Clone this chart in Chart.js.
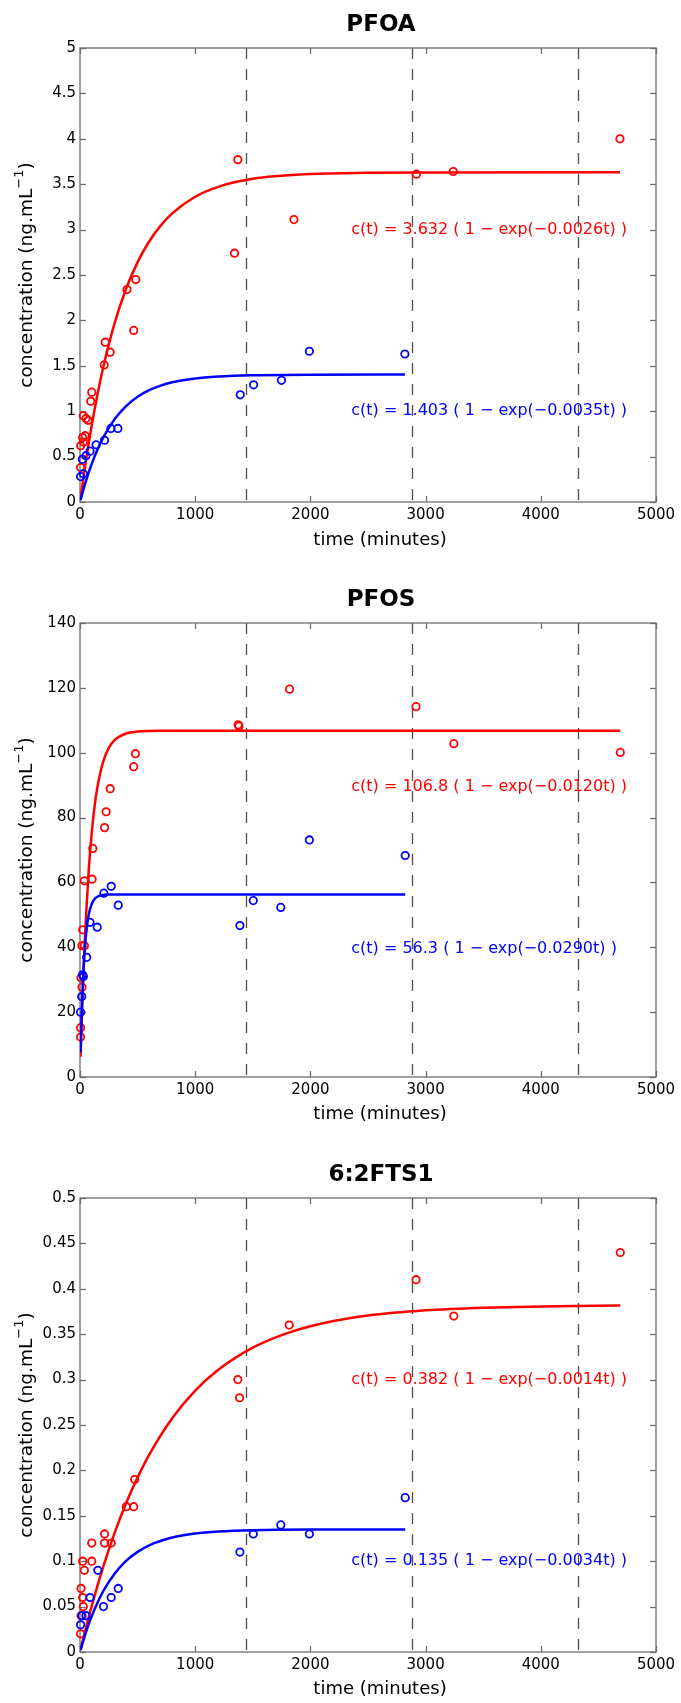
<!DOCTYPE html>
<html>
<head>
<meta charset="utf-8">
<script src="https://cdn.jsdelivr.net/npm/chart.js@4.4.1/dist/chart.umd.min.js"></script>
<style>
html,body{margin:0;padding:0;background:#fff;overflow:hidden;}
#wrap{position:relative;width:681px;height:1703px;overflow:hidden;background:#fff;}
.panel{position:absolute;left:0;width:681px;height:575px;}
canvas{display:block;}
</style>
</head>
<body>
<div id="wrap">
  <div class="panel" style="top:0px"><canvas id="c1" width="681" height="575"></canvas></div>
  <div class="panel" style="top:575px"><canvas id="c2" width="681" height="575"></canvas></div>
  <div class="panel" style="top:1150px"><canvas id="c3" width="681" height="575"></canvas></div>
</div>
<script>
// ---------- shared axis values ----------
const xTicks = [0, 1000, 2000, 3000, 4000, 5000];
const xTickLabels = ['0', '1000', '2000', '3000', '4000', '5000'];
const dayLines = [1440, 2880, 4320];

// ---------- PFOA ----------
const pfoaYTicks = [0, 0.5, 1, 1.5, 2, 2.5, 3, 3.5, 4, 4.5, 5];
const pfoaYTickLabels = ['0', '0.5', '1', '1.5', '2', '2.5', '3', '3.5', '4', '4.5', '5'];
const pfoaRedT = [5, 6, 23, 30, 44, 29, 52, 70, 93, 102, 210, 219, 262, 408, 466, 484, 1341, 1370, 1857, 2920, 3240, 4687];
const pfoaRedC = [0.38, 0.62, 0.71, 0.66, 0.73, 0.95, 0.92, 0.90, 1.11, 1.21, 1.51, 1.76, 1.65, 2.34, 1.89, 2.45, 2.74, 3.77, 3.11, 3.61, 3.64, 4.00];
const pfoaBlueT = [5, 29, 20, 52, 87, 140, 213, 268, 329, 1391, 1507, 1749, 1991, 2820];
const pfoaBlueC = [0.28, 0.31, 0.47, 0.51, 0.56, 0.63, 0.68, 0.81, 0.81, 1.18, 1.29, 1.34, 1.66, 1.63];
const pfoaRedFitT = [5, 50, 100, 150, 200, 300, 400, 500, 600, 700, 800, 1000, 1200, 1500, 2000, 2500, 3000, 4687];
const pfoaRedFitC = [0.047, 0.443, 0.831, 1.173, 1.473, 1.967, 2.348, 2.642, 2.869, 3.044, 3.178, 3.362, 3.471, 3.559, 3.612, 3.626, 3.630, 3.632];
const pfoaBlueFitT = [5, 50, 100, 150, 200, 300, 400, 500, 600, 700, 800, 1000, 1200, 1500, 2000, 2820];
const pfoaBlueFitC = [0.024, 0.225, 0.414, 0.573, 0.706, 0.912, 1.057, 1.159, 1.231, 1.282, 1.318, 1.361, 1.382, 1.396, 1.402, 1.403];

// ---------- PFOS ----------
const pfosYTicks = [0, 20, 40, 60, 80, 100, 120, 140];
const pfosYTickLabels = ['0', '20', '40', '60', '80', '100', '120', '140'];
const pfosRedT = [5, 5, 17, 9, 17, 38, 23, 38, 105, 111, 213, 227, 262, 466, 481, 1373, 1380, 1819, 2917, 3245, 4690];
const pfosRedC = [12.3, 15.2, 27.7, 30.6, 40.5, 40.5, 45.4, 60.5, 61.0, 70.5, 76.9, 81.8, 88.9, 95.7, 99.7, 108.6, 108.2, 119.6, 114.2, 102.8, 100.1];
const pfosBlueT = [5, 15, 29, 22, 58, 87, 149, 207, 271, 332, 1388, 1504, 1743, 1991, 2823];
const pfosBlueC = [20.0, 24.8, 31.0, 31.5, 36.9, 47.7, 46.2, 56.7, 58.8, 53.0, 46.7, 54.4, 52.3, 73.1, 68.3];
const pfosRedFitT = [5, 10, 15, 20, 30, 40, 50, 75, 100, 125, 150, 200, 250, 300, 400, 500, 700, 1000, 4690];
const pfosRedFitC = [6.22, 12.08, 17.59, 22.79, 32.29, 40.71, 48.19, 63.38, 74.63, 82.97, 89.15, 97.11, 101.48, 103.88, 105.92, 106.53, 106.78, 106.80, 106.80];
const pfosBlueFitT = [5, 10, 15, 20, 30, 40, 50, 75, 100, 125, 150, 200, 250, 300, 2823];
const pfosBlueFitC = [7.60, 14.17, 19.86, 24.78, 32.71, 38.65, 43.09, 49.91, 53.20, 54.80, 55.57, 56.13, 56.26, 56.29, 56.30];

// ---------- 6:2FTS1 ----------
const ftsYTicks = [0, 0.05, 0.1, 0.15, 0.2, 0.25, 0.3, 0.35, 0.4, 0.45, 0.5];
const ftsYTickLabels = ['0', '0.05', '0.1', '0.15', '0.2', '0.25', '0.3', '0.35', '0.4', '0.45', '0.5'];
const ftsRedT = [5, 9, 29, 23, 9, 38, 23, 102, 102, 213, 213, 271, 402, 466, 475, 1370, 1385, 1816, 2917, 3245, 4690];
const ftsRedC = [0.02, 0.04, 0.05, 0.06, 0.07, 0.09, 0.10, 0.10, 0.12, 0.13, 0.12, 0.12, 0.16, 0.16, 0.19, 0.30, 0.28, 0.36, 0.41, 0.37, 0.44];
const ftsBlueT = [5, 17, 52, 87, 155, 204, 271, 332, 1388, 1504, 1743, 1991, 2823];
const ftsBlueC = [0.03, 0.04, 0.04, 0.06, 0.09, 0.05, 0.06, 0.07, 0.11, 0.13, 0.14, 0.13, 0.17];
const ftsRedFitT = [5, 50, 100, 200, 300, 400, 500, 600, 800, 1000, 1200, 1500, 1800, 2100, 2500, 3000, 3500, 4000, 4690];
const ftsRedFitC = [0.0027, 0.0258, 0.0499, 0.0933, 0.1310, 0.1638, 0.1923, 0.2171, 0.2574, 0.2878, 0.3108, 0.3352, 0.3512, 0.3618, 0.3705, 0.3763, 0.3792, 0.3806, 0.3815];
const ftsBlueFitT = [5, 50, 100, 200, 300, 400, 500, 600, 800, 1000, 1200, 1500, 2000, 2823];
const ftsBlueFitC = [0.0023, 0.0211, 0.0389, 0.0666, 0.0863, 0.1004, 0.1103, 0.1175, 0.1261, 0.1305, 0.1327, 0.1342, 0.1349, 0.1350];

// ---------- styling ----------
const RED = '#ff0000';
const BLUE = '#0000ff';
const FONT = '"DejaVu Sans", "Liberation Sans", Arial, sans-serif';
const PLOT_TOP = 48, PLOT_BOTTOM = 502, PLOT_LEFT = 80, PLOT_RIGHT = 656, CANVAS_H = 575;

const pts = (t, c) => t.map((v, i) => ({x: v, y: c[i]}));

const matlabAxes = {
  id: 'matlabAxes',
  beforeDatasetsDraw(chart, args, o) {
    const {ctx, chartArea: a, scales: {x, y}} = chart;
    ctx.save();
    // dashed day lines
    ctx.strokeStyle = '#4d4d4d';
    ctx.lineWidth = 1.3;
    ctx.setLineDash([11, 10]);
    o.vlines.forEach(v => {
      const px = Math.round(x.getPixelForValue(v)) + 0.5;
      ctx.beginPath(); ctx.moveTo(px, a.top); ctx.lineTo(px, a.bottom); ctx.stroke();
    });
    ctx.setLineDash([]);
    // box
    ctx.strokeStyle = '#6e6e6e';
    ctx.lineWidth = 1.3;
    ctx.strokeRect(a.left, a.top, a.right - a.left, a.bottom - a.top);
    // inward ticks on all four sides
    const L = 6;
    const seg = (x1, y1, x2, y2) => { ctx.beginPath(); ctx.moveTo(x1, y1); ctx.lineTo(x2, y2); ctx.stroke(); };
    x.ticks.forEach(t => {
      const px = Math.round(x.getPixelForValue(t.value)) + 0.5;
      seg(px, a.bottom, px, a.bottom - L);
      seg(px, a.top, px, a.top + L);
    });
    y.ticks.forEach(t => {
      const py = Math.round(y.getPixelForValue(t.value)) + 0.5;
      seg(a.left, py, a.left + L, py);
      seg(a.right, py, a.right - L, py);
    });
    ctx.restore();
  },
  afterDatasetsDraw(chart, args, o) {
    const {ctx, scales: {x, y}} = chart;
    ctx.save();
    // fit equations
    ctx.font = '16px ' + FONT;
    ctx.textBaseline = 'middle';
    ctx.textAlign = 'left';
    o.equations.forEach(e => {
      ctx.fillStyle = e.color;
      ctx.fillText(e.text, x.getPixelForValue(e.x), y.getPixelForValue(e.y));
    });
    // title
    ctx.fillStyle = '#000';
    ctx.textAlign = 'center';
    ctx.font = 'bold 23px ' + FONT;
    ctx.fillText(o.title, o.titleX, o.titleY);
    // x axis title
    ctx.font = '18px ' + FONT;
    ctx.fillText('time (minutes)', o.xTitleX, o.xTitleY);
    // y axis title with superscript
    ctx.translate(o.yTitleX, o.yTitleY);
    ctx.rotate(-Math.PI / 2);
    ctx.textAlign = 'left';
    const mainFont = '18.5px ' + FONT, supFont = '13px ' + FONT;
    const p1 = 'concentration (ng.mL', p2 = '\u22121', p3 = ')';
    ctx.font = mainFont; const w1 = ctx.measureText(p1).width, w3 = ctx.measureText(p3).width;
    ctx.font = supFont; const w2 = ctx.measureText(p2).width;
    let sx = -(w1 + w2 + w3) / 2;
    ctx.font = mainFont; ctx.fillText(p1, sx, 0); sx += w1;
    ctx.font = supFont; ctx.fillText(p2, sx, -7); sx += w2;
    ctx.font = mainFont; ctx.fillText(p3, sx, 0);
    ctx.restore();
  }
};

function makeChart(id, cfg) {
  const datasets = [
    {data: pts(cfg.redFitT, cfg.redFitC), showLine: true, pointRadius: 0, borderColor: RED, borderWidth: 2.5,
     cubicInterpolationMode: 'monotone', fill: false, order: 3},
    {data: pts(cfg.redT, cfg.redC), showLine: false, pointRadius: 3.7, pointBorderWidth: 1.8,
     borderColor: RED, backgroundColor: 'rgba(0,0,0,0)', pointBackgroundColor: 'rgba(0,0,0,0)', clip: false, order: 2},
    {data: pts(cfg.blueFitT, cfg.blueFitC), showLine: true, pointRadius: 0, borderColor: BLUE, borderWidth: 2.5,
     cubicInterpolationMode: 'monotone', fill: false, order: 1},
    {data: pts(cfg.blueT, cfg.blueC), showLine: false, pointRadius: 3.7, pointBorderWidth: 1.8,
     borderColor: BLUE, backgroundColor: 'rgba(0,0,0,0)', pointBackgroundColor: 'rgba(0,0,0,0)', clip: false, order: 0}
  ];
  return new Chart(document.getElementById(id), {
    type: 'scatter',
    data: {datasets},
    plugins: [matlabAxes],
    options: {
      responsive: false,
      animation: false,
      devicePixelRatio: 1,
      layout: {padding: {top: PLOT_TOP, left: 0, right: 681 - PLOT_RIGHT, bottom: 0}},
      plugins: {
        legend: {display: false},
        tooltip: {enabled: false},
        title: {display: false},
        matlabAxes: {
          vlines: dayLines,
          equations: cfg.equations,
          title: cfg.title, titleX: 381, titleY: 25,
          xTitleX: 380, xTitleY: cfg.xTitleY,
          yTitleX: 27, yTitleY: 275
        }
      },
      scales: {
        x: {
          type: 'linear', min: 0, max: 5000,
          grid: {display: false, drawTicks: false},
          border: {display: false},
          afterBuildTicks: s => { s.ticks = xTicks.map(v => ({value: v})); },
          afterFit: s => { s.height = CANVAS_H - PLOT_BOTTOM; s.paddingLeft = 0; s.paddingRight = 0; },
          ticks: {
            autoSkip: false, maxRotation: 0, padding: 4, color: '#000',
            font: {family: FONT, size: 15},
            callback: (v, i) => xTickLabels[i]
          }
        },
        y: {
          type: 'linear', min: 0, max: cfg.yTicks[cfg.yTicks.length - 1],
          grid: {display: false, drawTicks: false},
          border: {display: false},
          afterBuildTicks: s => { s.ticks = cfg.yTicks.map(v => ({value: v})); },
          afterFit: s => { s.width = PLOT_LEFT; s.paddingTop = 0; s.paddingBottom = 0; },
          ticks: {
            autoSkip: false, padding: 4, color: '#000',
            font: {family: FONT, size: 15},
            callback: (v, i) => cfg.yTickLabels[i]
          }
        }
      }
    }
  });
}

makeChart('c1', {
  title: 'PFOA', xTitleY: 540,
  yTicks: pfoaYTicks, yTickLabels: pfoaYTickLabels,
  redT: pfoaRedT, redC: pfoaRedC, blueT: pfoaBlueT, blueC: pfoaBlueC,
  redFitT: pfoaRedFitT, redFitC: pfoaRedFitC, blueFitT: pfoaBlueFitT, blueFitC: pfoaBlueFitC,
  equations: [
    {text: 'c(t) = 3.632 ( 1 \u2212 exp(\u22120.0026t) )', x: 2355, y: 3.0, color: RED},
    {text: 'c(t) = 1.403 ( 1 \u2212 exp(\u22120.0035t) )', x: 2355, y: 1.0, color: BLUE}
  ]
});

makeChart('c2', {
  title: 'PFOS', xTitleY: 539,
  yTicks: pfosYTicks, yTickLabels: pfosYTickLabels,
  redT: pfosRedT, redC: pfosRedC, blueT: pfosBlueT, blueC: pfosBlueC,
  redFitT: pfosRedFitT, redFitC: pfosRedFitC, blueFitT: pfosBlueFitT, blueFitC: pfosBlueFitC,
  equations: [
    {text: 'c(t) = 106.8 ( 1 \u2212 exp(\u22120.0120t) )', x: 2355, y: 89.6, color: RED},
    {text: 'c(t) = 56.3 ( 1 \u2212 exp(\u22120.0290t) )', x: 2355, y: 39.6, color: BLUE}
  ]
});

makeChart('c3', {
  title: '6:2FTS1', xTitleY: 539,
  yTicks: ftsYTicks, yTickLabels: ftsYTickLabels,
  redT: ftsRedT, redC: ftsRedC, blueT: ftsBlueT, blueC: ftsBlueC,
  redFitT: ftsRedFitT, redFitC: ftsRedFitC, blueFitT: ftsBlueFitT, blueFitC: ftsBlueFitC,
  equations: [
    {text: 'c(t) = 0.382 ( 1 \u2212 exp(\u22120.0014t) )', x: 2355, y: 0.30, color: RED},
    {text: 'c(t) = 0.135 ( 1 \u2212 exp(\u22120.0034t) )', x: 2355, y: 0.10, color: BLUE}
  ]
});
</script>
</body>
</html>
